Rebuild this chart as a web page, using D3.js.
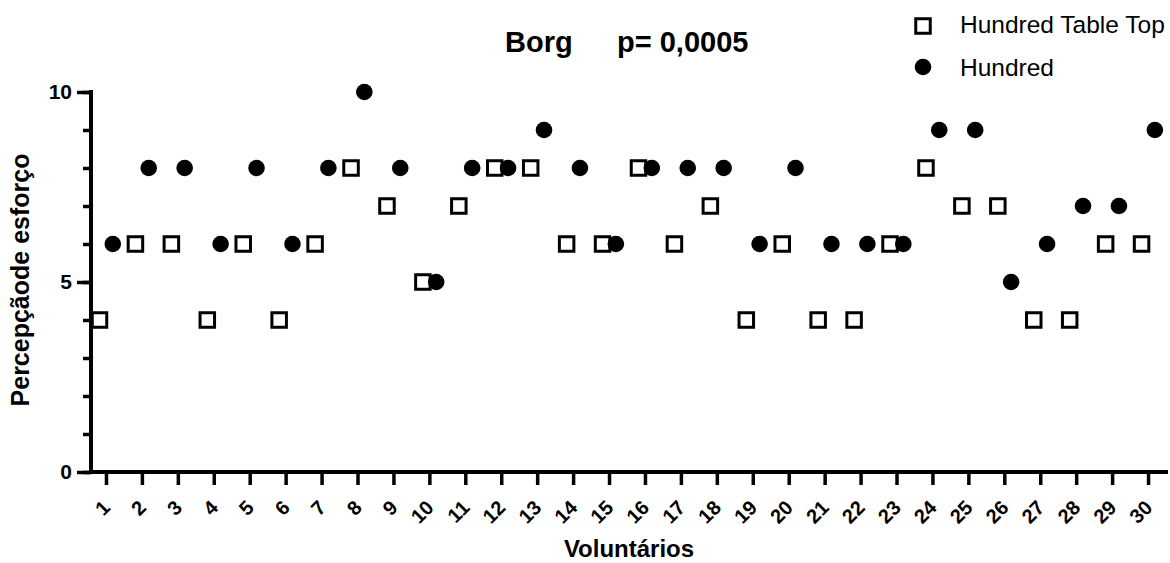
<!DOCTYPE html>
<html>
<head>
<meta charset="utf-8">
<script src="https://cdn.jsdelivr.net/npm/d3@7"></script>
<style>
  body { margin: 0; background: #fff; }
  svg { font-family: "Liberation Sans", Arial, sans-serif; }
</style>
</head>
<body>
<div id="chart"></div>
<script>

// volunteers 1..30
var voluntarios = [1, 2, 3, 4, 5, 6, 7, 8, 9, 10, 11, 12, 13, 14, 15,
  16, 17, 18, 19, 20, 21, 22, 23, 24, 25, 26, 27, 28, 29, 30];

// Borg scores
var tableTop = [4, 6, 6, 4, 6, 4, 6, 8, 7, 5, 7, 8, 8, 6, 6,
  8, 6, 7, 4, 6, 4, 4, 6, 8, 7, 7, 4, 4, 6, 6];
var hundred = [6, 8, 8, 6, 8, 6, 8, 10, 8, 5, 8, 8, 9, 8, 6,
  8, 8, 8, 6, 8, 6, 6, 6, 9, 9, 5, 6, 7, 7, 9];

var yMajor = [0, 5, 10];
var yMinor = [0, 1, 2, 3, 4, 5, 6, 7, 8, 9, 10];

var seriesNames = ["Hundred Table Top", "Hundred"];

var width = 1170, height = 563;

var svg = d3.select("#chart").append("svg")
  .attr("width", width)
  .attr("height", height);

var x = d3.scaleLinear().domain([0.5, 30.5]).range([88, 1166]);
var y = d3.scaleLinear().domain([0, 10]).range([472, 92]);

// y axis: minor ticks every unit, labels on 0/5/10
var yMinorAxis = svg.append("g")
  .attr("transform", "translate(91,0)")
  .call(d3.axisLeft(y).tickValues(yMinor).tickSize(8).tickFormat("").tickSizeOuter(0));

var yAxis = svg.append("g")
  .attr("transform", "translate(91,0)")
  .call(d3.axisLeft(y).tickValues(yMajor).tickSize(14).tickPadding(5).tickSizeOuter(0));

yAxis.selectAll("text")
  .attr("font-size", 21)
  .attr("font-weight", "bold")
  .attr("fill", "#000");

svg.selectAll(".domain").remove();

// x axis
var xAxis = svg.append("g")
  .attr("transform", "translate(0,472)")
  .call(d3.axisBottom(x).tickValues(voluntarios).tickSize(13).tickSizeOuter(0));

xAxis.select(".domain").remove();
xAxis.selectAll("text").remove();

xAxis.selectAll(".tick").append("text")
  .attr("transform", "translate(5,37) rotate(-45)")
  .attr("text-anchor", "end")
  .attr("font-size", 20)
  .attr("font-weight", "bold")
  .attr("fill", "#000")
  .text(function(d) { return d; });

svg.selectAll(".tick line")
  .attr("stroke", "#000")
  .attr("stroke-width", 3.5);

// axis lines
svg.append("line")
  .attr("x1", 91).attr("x2", 91)
  .attr("y1", y(10) - 2).attr("y2", y(0) + 2)
  .attr("stroke", "#000").attr("stroke-width", 4);

svg.append("line")
  .attr("x1", 89).attr("x2", 1168)
  .attr("y1", y(0)).attr("y2", y(0))
  .attr("stroke", "#000").attr("stroke-width", 4);

// squares
var sq = 14.5;
svg.append("g").selectAll("rect")
  .data(tableTop)
  .enter().append("rect")
  .attr("x", function(d, i) { return x(voluntarios[i] - 0.18) - sq / 2; })
  .attr("y", function(d) { return y(d) - sq / 2; })
  .attr("width", sq)
  .attr("height", sq)
  .attr("fill", "#fff")
  .attr("stroke", "#000")
  .attr("stroke-width", 3);

// circles
svg.append("g").selectAll("circle")
  .data(hundred)
  .enter().append("circle")
  .attr("cx", function(d, i) { return x(voluntarios[i] + 0.19); })
  .attr("cy", function(d) { return y(d); })
  .attr("r", 8.3)
  .attr("fill", "#000");

// title
svg.append("text")
  .attr("x", 505).attr("y", 52)
  .attr("font-size", 29)
  .attr("font-weight", "bold")
  .text("Borg");

svg.append("text")
  .attr("x", 617).attr("y", 52)
  .attr("font-size", 29)
  .attr("font-weight", "bold")
  .text("p= 0,0005");

// axis titles
svg.append("text")
  .attr("x", 629).attr("y", 557)
  .attr("text-anchor", "middle")
  .attr("font-size", 24)
  .attr("font-weight", "bold")
  .text("Voluntários");

svg.append("text")
  .attr("transform", "translate(29,280) rotate(-90)")
  .attr("text-anchor", "middle")
  .attr("font-size", 25)
  .attr("font-weight", "bold")
  .text("Percepçãode esforço");

// legend
var legend = svg.append("g");

legend.append("rect")
  .attr("x", 923 - sq / 2).attr("y", 26 - sq / 2)
  .attr("width", sq).attr("height", sq)
  .attr("fill", "#fff").attr("stroke", "#000").attr("stroke-width", 3);

legend.append("circle")
  .attr("cx", 923).attr("cy", 67).attr("r", 8.3)
  .attr("fill", "#000");

legend.selectAll("text")
  .data(seriesNames)
  .enter().append("text")
  .attr("x", 960)
  .attr("y", function(d, i) { return 33 + i * 43; })
  .attr("font-size", 24.5)
  .text(function(d) { return d; });

</script>
</body>
</html>
